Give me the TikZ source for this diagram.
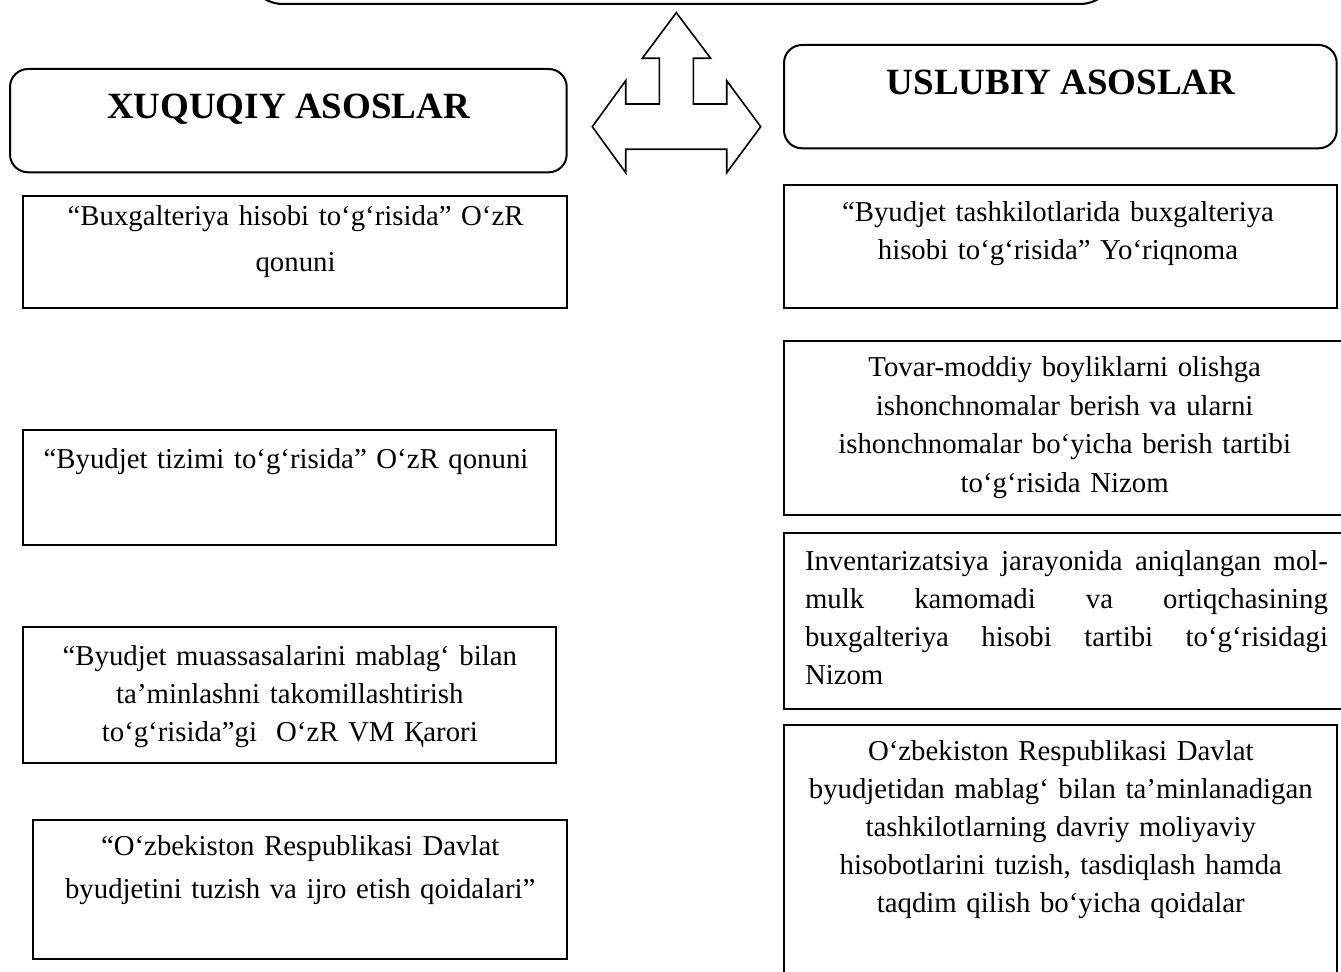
\documentclass[tikz,border=0pt]{standalone}
\usepackage{fontspec}
\setmainfont{Liberation Serif}
\newcommand{\jline}[1]{\leavevmode\hbox to 261.5pt{#1}}
\begin{document}
\begin{tikzpicture}[x=0.5pt, y=-0.5pt]
\tikzset{
  docbox/.style={draw, line width=1pt, inner sep=0pt, outer sep=0pt},
  headbox/.style={docbox, rounded corners=9pt},
  txt/.style={inner sep=0pt, outer sep=0pt, font=\fontsize{14.4pt}{19pt}\selectfont, align=center, anchor=base, text width=#1},
  txt/.default=272pt,
  ttl/.style={inner sep=0pt, font=\fontsize{18.5pt}{22pt}\selectfont\bfseries, anchor=base},
  blockarrow/.style={draw, line width=0.8pt, fill=white, line join=miter}
}
\useasboundingbox (0,0) rectangle (1341,972);
\clip (0,0) rectangle (1341,972);

% top (cut off) box
\node[docbox, rounded corners=18pt, minimum width=434.5pt, minimum height=32pt] (top) at (681.5,-28) {};

% three-way block arrow
\draw[blockarrow] (676.3,12.7) -- (710.7,58.3) -- (693.3,58.3) -- (693.3,104) -- (726.7,104) -- (726.7,80.7) -- (760.7,126.7) -- (726.7,172.7) -- (726.7,149.3) -- (625.7,149.3) -- (625.7,172.7) -- (592.3,126.7) -- (625.7,80.7) -- (625.7,104) -- (659.3,104) -- (659.3,58.3) -- (642.3,58.3) -- cycle;

% heading boxes
\node[headbox, minimum width=278.35pt, minimum height=51.65pt] (hl) at (288.35,120.65) {};
\node[ttl] (hlt) at (288.5,119) {XUQUQIY ASOSLAR};
\node[headbox, minimum width=276.35pt, minimum height=51.65pt] (hr) at (1060.35,96.65) {};
\node[ttl] (hrt) at (1061,95) {USLUBIY ASOSLAR};

% left column
\node[docbox, minimum width=272pt, minimum height=56.15pt] (l1) at (294.7,252.15) {};
\node[txt, font=\fontsize{14.4pt}{23pt}\selectfont] (l1t) at (295.6,225.7) {“Buxgalteriya hisobi to‘g‘risida” O‘zR\\qonuni};

\node[docbox, minimum width=266.55pt, minimum height=57.65pt] (l2) at (289.25,487.65) {};
\node[txt] (l2t) at (286,468.3) {“Byudjet tizimi to‘g‘risida” O‘zR qonuni};

\node[docbox, minimum width=266.55pt, minimum height=68pt] (l3) at (289.25,695) {};
\node[txt] (l3t) at (289.8,665.3) {“Byudjet muassasalarini mablag‘ bilan\\ta’minlashni takomillashtirish\\to‘g‘risida”gi\ \ O‘zR VM Қarori};

\node[docbox, minimum width=266.85pt, minimum height=69.2pt] (l4) at (300.15,889.5) {};
\node[txt, font=\fontsize{14.4pt}{21.7pt}\selectfont] (l4t) at (300.2,855.3) {“O‘zbekiston Respublikasi Davlat\\byudjetini tuzish va ijro etish qoidalari”};

% right column
\node[docbox, minimum width=276.35pt, minimum height=61.65pt] (r1) at (1060.35,246.65) {};
\node[txt] (r1t) at (1058,221.7) {“Byudjet tashkilotlarida buxgalteriya\\hisobi to‘g‘risida” Yo‘riqnoma};

\node[docbox, minimum width=281pt, minimum height=87.3pt] (r2) at (1065,428) {};
\node[txt, font=\fontsize{14.4pt}{19.3pt}\selectfont] (r2t) at (1064.7,376.7) {Tovar-moddiy boyliklarni olishga\\ishonchnomalar berish va ularni\\ishonchnomalar bo‘yicha berish tartibi\\to‘g‘risida Nizom};

\node[docbox, minimum width=282.5pt, minimum height=88pt] (r3) at (1066.5,620.7) {};
\node[txt=261.5pt, align=left, anchor=base west] (r3t) at (805,570.3) {\jline{Inventarizatsiya\hfill jarayonida\hfill aniqlangan\hfill mol-}\\\jline{mulk\hfill kamomadi\hfill va\hfill ortiqchasining}\\\jline{buxgalteriya\hfill hisobi\hfill tartibi\hfill to‘g‘risidagi}\\Nizom};

\node[docbox, minimum width=276.35pt, minimum height=137.65pt] (r4) at (1060.35,862.35) {};
\node[txt] (r4t) at (1060.8,760.3) {O‘zbekiston Respublikasi Davlat\\byudjetidan mablag‘ bilan ta’minlanadigan\\tashkilotlarning davriy moliyaviy\\hisobotlarini tuzish, tasdiqlash hamda\\taqdim qilish bo‘yicha qoidalar};
\end{tikzpicture}
\end{document}
